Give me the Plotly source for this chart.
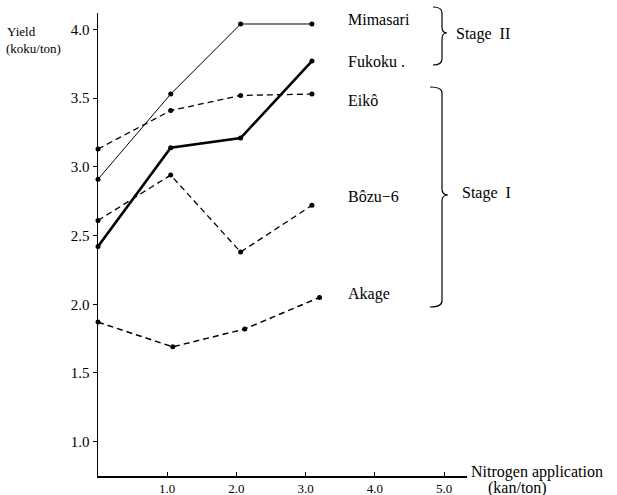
import plotly.graph_objects as go

# ---- data ----
nitrogen = [0.0, 1.05, 2.06, 3.09]
nitrogen_akage = [0.0, 1.08, 2.12, 3.2]
mimasari = [2.91, 3.53, 4.04, 4.04]
fukoku = [2.42, 3.14, 3.21, 3.77]
eiko = [3.13, 3.41, 3.52, 3.53]
bozu6 = [2.61, 2.94, 2.38, 2.72]
akage = [1.87, 1.69, 1.82, 2.05]

x_ticks = [1.0, 2.0, 3.0, 4.0, 5.0]
x_ticklabels = ["1.0", "2.0", "3.0", "4.0", "5.0"]
y_ticks = [1.0, 1.5, 2.0, 2.5, 3.0, 3.5, 4.0]
y_ticklabels = ["1.0", "1.5", "2.0", "2.5", "3.0", "3.5", "4.0"]

W, H = 617, 495
L, R, T, B = 98, 467, 13, 476
FONT = "Liberation Serif"


def px(xp):
    return (xp - L) / (R - L)


def py(yp):
    return (B - yp) / (B - T)


fig = go.Figure()

series = [
    ("Mimasari", nitrogen, mimasari, 1.0, "solid"),
    ("Fukoku", nitrogen, fukoku, 2.6, "solid"),
    ("Eikô", nitrogen, eiko, 1.3, "6px,4px"),
    ("Bôzu−6", nitrogen, bozu6, 1.3, "6px,4px"),
    ("Akage", nitrogen_akage, akage, 1.5, "6px,4px"),
]
for name, xs, ys, w, dash in series:
    fig.add_trace(go.Scatter(
        x=xs, y=ys, name=name, mode="lines+markers",
        line=dict(color="black", width=w, dash=dash),
        marker=dict(color="black", size=5),
        cliponaxis=False, showlegend=False,
    ))

annotations = []


def text_at(text, xp, yp, size):
    annotations.append(dict(x=px(xp), y=py(yp), xref="paper", yref="paper",
                            text=text, showarrow=False, xanchor="left",
                            yanchor="middle", borderpad=0,
                            font=dict(family=FONT, size=size, color="black")))


labels = [("Mimasari", 20), ("Fukoku .", 61), ("Eikô", 100),
          ("Bôzu−6", 196), ("Akage", 294)]
for text, yp in labels:
    text_at(text, 347, yp, 16)
text_at("Stage  II", 455, 34, 16)
text_at("Stage  I", 461, 193, 16)
text_at("Yield", 6, 31, 13)
text_at("(koku/ton)", 5, 48, 13)
text_at("Nitrogen application", 470, 472, 16)
text_at("(kan/ton)", 487, 488, 16)


def brace(x_end, x_v, x_tip, y0, y_tip, y1, r=6):
    pts = [
        f"M{px(x_end)},{py(y0)}",
        f"Q{px(x_v)},{py(y0)} {px(x_v)},{py(y0 + r)}",
        f"L{px(x_v)},{py(y_tip - r)}",
        f"Q{px(x_v)},{py(y_tip)} {px(x_tip)},{py(y_tip)}",
        f"Q{px(x_v)},{py(y_tip)} {px(x_v)},{py(y_tip + r)}",
        f"L{px(x_v)},{py(y1 - r)}",
        f"Q{px(x_v)},{py(y1)} {px(x_end)},{py(y1)}",
    ]
    return dict(type="path", xref="paper", yref="paper", path=" ".join(pts),
                line=dict(color="black", width=1.2))


shapes = [
    brace(433, 442, 447, 7, 33, 65),
    brace(430, 442, 448, 87, 195, 307),
]

fig.update_layout(
    width=W, height=H,
    margin=dict(l=L, r=W - R, t=T, b=H - B, pad=0, autoexpand=False),
    paper_bgcolor="white", plot_bgcolor="white",
    font=dict(family=FONT, color="black"),
    annotations=annotations, shapes=shapes,
    xaxis=dict(range=[0, 5.33], tickvals=x_ticks, ticktext=x_ticklabels,
               showgrid=False, zeroline=False, showline=True,
               linecolor="black", linewidth=1.5, ticks="inside",
               ticklen=4, tickcolor="black", automargin=False,
               tickfont=dict(family=FONT, size=13, color="black")),
    yaxis=dict(range=[0.75, 4.12], tickvals=y_ticks, ticktext=y_ticklabels,
               showgrid=False, zeroline=False, showline=True,
               linecolor="black", linewidth=1.5, ticks="outside",
               ticklen=4, tickcolor="black", automargin=False,
               tickfont=dict(family=FONT, size=15, color="black")),
)

fig.write_html(
    "out.html",
    config={"displayModeBar": False, "staticPlot": True},
    post_script="document.body.style.margin='0';"
                "document.body.style.overflow='hidden';",
)
